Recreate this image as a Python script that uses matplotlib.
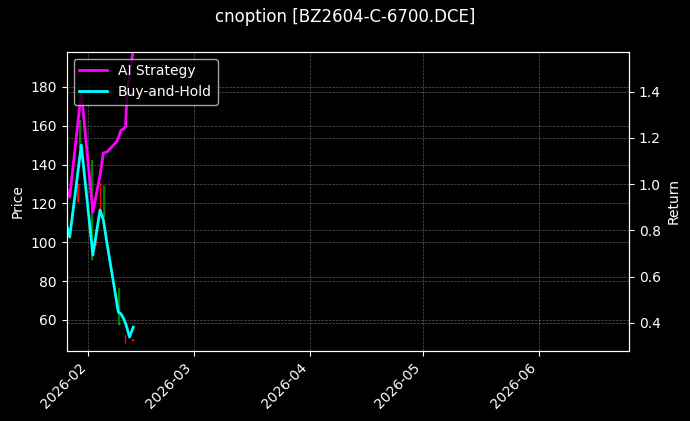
import pandas as pd
import matplotlib
matplotlib.use("Agg")
import matplotlib.pyplot as plt
import matplotlib.dates as mdates

plt.style.use("dark_background")

# strategy curves
times = ["2026-01-26 11:00", "2026-01-27 01:00", "2026-01-30 03:00", "2026-02-02 05:00",
         "2026-02-04 03:00", "2026-02-05 00:00", "2026-02-06 01:00", "2026-02-08 13:00",
         "2026-02-08 23:30", "2026-02-09 17:00", "2026-02-10 07:30", "2026-02-10 21:30",
         "2026-02-11 07:00", "2026-02-11 23:00", "2026-02-12 23:00"]
ai_strategy = [0.974, 0.944, 1.399, 0.879, 1.039, 1.135, 1.140, 1.184,
               1.200, 1.234, 1.239, 1.247, 1.386, 1.472, 1.580]
buy_hold = [0.810, 0.771, 1.169, 0.693, 0.888, 0.845, 0.737, 0.490,
            0.446, 0.438, 0.420, 0.398, 0.377, 0.338, 0.381]

# candles
candle_times = ["2026-01-29 04:20", "2026-01-29 19:00", "2026-02-01 23:40", "2026-02-03 01:10",
                "2026-02-04 04:30", "2026-02-05 02:20", "2026-02-09 03:50", "2026-02-10 20:10",
                "2026-02-12 21:20"]
opens = [130.5, 148.5, 90.8, 106.3, 130.5, 113.0, 57.4, 52.3, 50.0]
closes = [120.7, 162.9, 142.3, 98.5, 115.0, 129.4, 76.5, 48.2, 49.0]
highs = [130.5, 162.9, 142.3, 106.3, 130.5, 129.4, 76.5, 52.3, 50.0]
lows = [120.7, 148.5, 90.8, 98.5, 115.0, 113.0, 57.4, 48.2, 49.0]

t = pd.to_datetime(times)
ct = pd.to_datetime(candle_times)

fig = plt.figure(figsize=(6.9, 4.21), dpi=100)
ax = fig.add_axes([0.0967, 0.167, 0.815, 0.71])
ax2 = ax.twinx()

for i in range(len(ct)):
    col = "green" if closes[i] >= opens[i] else "red"
    ax.vlines(ct[i], lows[i], highs[i], color=col, linewidth=1)
    ax.bar(ct[i], abs(closes[i] - opens[i]), bottom=min(opens[i], closes[i]),
           width=0.4, color=col)

ax2.plot(t, ai_strategy, color="magenta", linewidth=2, label="AI Strategy")
ax2.plot(t, buy_hold, color="cyan", linewidth=2, label="Buy-and-Hold")

ax.set_xlim(pd.Timestamp("2026-01-26 06:00"), pd.Timestamp("2026-06-24 22:00"))
ax.set_ylim(44.2, 198)
ax2.set_ylim(0.279, 1.573)

ax.set_ylabel("Price")
ax2.set_ylabel("Return")
ax.xaxis.set_major_locator(mdates.MonthLocator())
ax.xaxis.set_major_formatter(mdates.DateFormatter("%Y-%m"))
plt.setp(ax.get_xticklabels(), rotation=45, ha="right")

ax.grid(True, linestyle="--", linewidth=0.5, alpha=0.35)
ax2.grid(True, linestyle="--", linewidth=0.5, alpha=0.35)

ax2.legend(loc="upper left")
fig.suptitle("cnoption [BZ2604-C-6700.DCE]", fontsize=12, y=0.98)

fig.savefig("out.png", dpi=100)
